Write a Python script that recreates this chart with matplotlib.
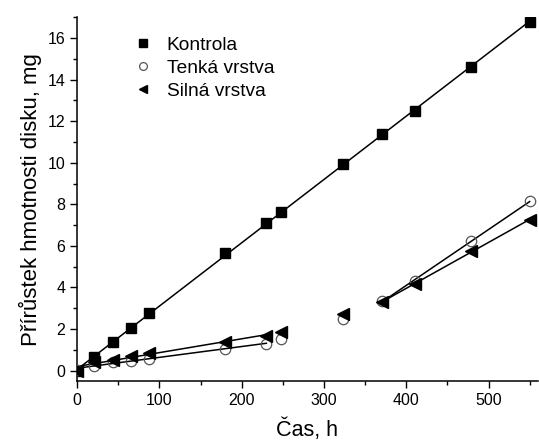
import numpy as np
import matplotlib
matplotlib.use('Agg')
import matplotlib.pyplot as plt
from matplotlib.ticker import MultipleLocator

plt.rcParams['font.family'] = ['Liberation Sans', 'DejaVu Sans']

# time, h
cas = [0, 20, 44, 66, 88, 180, 230, 248, 323, 370, 411, 479, 550]
# weight gain, mg
kontrola = [0.0, 0.64, 1.36, 2.04, 2.76, 5.66, 7.10, 7.61, 9.96, 11.40, 12.47, 14.62, 16.77]
tenka = [0.05, 0.24, 0.40, 0.48, 0.56, 1.06, 1.30, 1.53, 2.49, 3.35, 4.32, 6.22, 8.15]
silna = [0.0, 0.42, 0.52, 0.72, 0.86, 1.38, 1.68, 1.85, 2.70, 3.30, 4.17, 5.75, 7.25]

labels = ['Kontrola', 'Tenká vrstva', 'Silná vrstva']

cas = np.array(cas)
fig = plt.figure(figsize=(5.39, 4.41), dpi=100)
ax = fig.add_axes([0.143, 0.136, 0.855, 0.825])

def fit_line(x, y):
  p = np.polyfit(x, y, 1)
  xx = np.array([x[0], x[-1]])
  ax.plot(xx, np.polyval(p, xx), color='black', lw=1.1, zorder=2)

# fitted lines
fit_line(cas, np.array(kontrola))
for ser in [tenka, silna]:
  ser = np.array(ser)
  fit_line(cas[:7], ser[:7])
  fit_line(cas[9:], ser[9:])

ax.plot(cas, kontrola, 's', color='black', ms=7.5, ls='none', label=labels[0], zorder=3)
ax.plot(cas, tenka, 'o', mfc='none', mec='#555555', mew=0.9, ms=7.5, ls='none', label=labels[1], zorder=3)
ax.plot(cas, silna, '<', color='black', ms=8.5, ls='none', label=labels[2], zorder=4)

ax.set_xlim(0, 560)
ax.set_ylim(-0.5, 17)
ax.xaxis.set_major_locator(MultipleLocator(100))
ax.xaxis.set_minor_locator(MultipleLocator(50))
ax.yaxis.set_major_locator(MultipleLocator(2))
ax.yaxis.set_minor_locator(MultipleLocator(1))
ax.tick_params(which='major', direction='out', length=5, width=1, labelsize=11.5)
ax.tick_params(which='minor', direction='out', length=3, width=1)
for s in ['top', 'right']:
  ax.spines[s].set_visible(False)
for s in ['left', 'bottom']:
  ax.spines[s].set_linewidth(1.1)

ax.set_xlabel('Čas, h', fontsize=15.5, labelpad=8)
ax.set_ylabel('Přírůstek hmotnosti disku, mg', fontsize=16, labelpad=4)

ax.legend(loc='upper left', bbox_to_anchor=(0.08, 0.995), frameon=False, fontsize=13.8,
          markerscale=0.75, handlelength=1.2, handletextpad=0.65, labelspacing=0.3)

fig.savefig('out.png', dpi=100)
